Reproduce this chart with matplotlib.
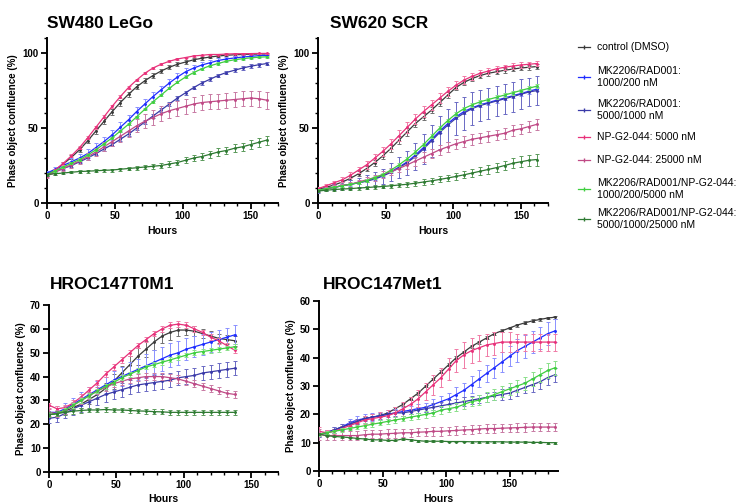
import matplotlib.pyplot as plt
from matplotlib.lines import Line2D
from matplotlib.ticker import MultipleLocator

plt.rcParams['font.family'] = ['Liberation Sans', 'DejaVu Sans']

labels = ['control (DMSO)', 'MK2206/RAD001:\n1000/200 nM', 'MK2206/RAD001:\n5000/1000 nM',
          'NP-G2-044: 5000 nM', 'NP-G2-044: 25000 nM',
          'MK2206/RAD001/NP-G2-044:\n1000/200/5000 nM', 'MK2206/RAD001/NP-G2-044:\n5000/1000/25000 nM']
colors = ['#3a3a3a', '#1f2dff', '#3a3aa8', '#e8317a', '#c04a86', '#3fcf3f', '#2e7a32']
err_colors = ['#707070', '#8a90ff', '#6a6ac4', '#f07aa6', '#c87aa4', '#8ae08a', '#5a9a5a']

# ---- SW480 LeGo ----
t_sw480 = list(range(0, 163, 6))
sw480 = [
    [19, 22, 26, 30.5, 35.5, 41.5, 48, 54.5, 61, 67, 72.5, 77.5, 81.5, 85, 88, 90.5, 92.5, 94, 95.5, 96.5, 97.3, 98, 98.5, 98.8, 99, 99.2, 99.3, 99.4],
    [20, 22.5, 25, 27.5, 30, 33, 37, 41, 45.5, 50.5, 55.5, 61, 66, 71, 75.5, 80, 84, 87.5, 90, 92, 93.5, 95, 96, 96.7, 97.3, 97.8, 98.2, 98.5],
    [19, 21, 23, 25, 27.5, 30, 33, 36, 39, 42.5, 46, 50, 54, 58, 62, 66, 70, 73.5, 77, 80, 82.5, 85, 87, 88.5, 90, 91.2, 92.2, 93],
    [18, 22, 26.5, 31.5, 37, 43.5, 50.5, 57.5, 64.5, 71, 77, 82, 86.5, 90, 92.5, 94.5, 96, 97, 98, 98.5, 99, 99, 99.3, 99.5, 99.5, 99.6, 99.7, 99.7],
    [18, 20.5, 23, 25.5, 28, 31, 34, 37.5, 41, 44.5, 48, 51.5, 54.5, 57, 59.5, 61.5, 63, 64.5, 66, 67, 67.5, 68, 68.5, 69, 69.5, 70, 69.5, 68.5],
    [19, 21.5, 24, 26.5, 29, 32, 35.5, 39.5, 43.5, 48, 52.5, 57.5, 62.5, 67.5, 72, 76.5, 80.5, 84, 87, 89.5, 91.5, 93, 94.5, 95.5, 96.2, 96.8, 97.2, 97.5],
    [19, 19.5, 20, 20.5, 21, 21.2, 21.5, 21.8, 22, 22.5, 23, 23.5, 24, 24.5, 25, 26, 27, 28.5, 30, 31, 32.5, 34, 35, 36.5, 37.5, 39, 40.5, 42],
]
sw480_err = [
    [0.8, 1, 1.2, 1.4, 1.6, 1.8, 2, 2, 2, 2, 1.8, 1.8, 1.6, 1.5, 1.4, 1.3, 1.2, 1.1, 1, 0.9, 0.8, 0.7, 0.7, 0.6, 0.6, 0.6, 0.5, 0.5],
    [1.5, 1.8, 2, 2.3, 2.5, 2.8, 3, 3.2, 3.3, 3.4, 3.4, 3.3, 3.2, 3, 2.8, 2.6, 2.4, 2.2, 2, 1.8, 1.6, 1.5, 1.4, 1.3, 1.2, 1.2, 1.1, 1.1],
    [1, 1, 1, 1.1, 1.1, 1.2, 1.2, 1.2, 1.3, 1.3, 1.3, 1.3, 1.3, 1.3, 1.3, 1.3, 1.3, 1.3, 1.3, 1.3, 1.3, 1.3, 1.3, 1.3, 1.3, 1.3, 1.3, 1.3],
    [0.8, 0.8, 0.9, 1, 1, 1, 1.1, 1.1, 1.1, 1, 1, 0.9, 0.8, 0.8, 0.7, 0.6, 0.6, 0.5, 0.5, 0.5, 0.4, 0.4, 0.4, 0.4, 0.4, 0.4, 0.4, 0.4],
    [1.5, 1.6, 1.8, 2, 2.2, 2.5, 2.8, 3, 3.3, 3.6, 4, 4.3, 4.6, 4.8, 5, 5, 5, 5, 5, 5, 5, 5, 5, 5, 5, 5, 5.2, 5.5],
    [0.6, 0.6, 0.7, 0.7, 0.8, 0.8, 0.8, 0.8, 0.8, 0.8, 0.8, 0.8, 0.8, 0.8, 0.8, 0.8, 0.8, 0.8, 0.8, 0.8, 0.7, 0.7, 0.7, 0.7, 0.6, 0.6, 0.6, 0.6],
    [0.8, 0.8, 0.8, 0.8, 0.9, 0.9, 1, 1, 1, 1.1, 1.2, 1.3, 1.4, 1.5, 1.6, 1.7, 1.8, 2, 2.1, 2.2, 2.3, 2.4, 2.5, 2.6, 2.7, 2.8, 2.9, 3],
]

# ---- SW620 SCR ----
t_sw620 = list(range(0, 163, 6))
sw620 = [
    [9, 10.5, 12, 14, 16.5, 19.5, 23, 27, 31.5, 36.5, 42, 47.5, 53, 57.5, 62, 67, 72, 77, 80.5, 83, 85, 86.5, 87.5, 88.5, 89.3, 90, 90.5, 91],
    [8.5, 9.5, 10.5, 11.5, 12.5, 13.5, 15, 16.5, 18.5, 21, 24, 27.5, 32, 37, 42.5, 48, 53, 57.5, 61, 63.5, 65.5, 67, 68.5, 70, 71.5, 73, 74.5, 76],
    [8, 9.5, 10.5, 11.5, 12.5, 13.5, 14.5, 16, 18, 20.5, 23.5, 27, 31, 36, 41.5, 47, 52, 56.5, 60, 63, 65, 66.5, 68, 69.5, 71, 72.5, 74, 75],
    [9.5, 11.5, 13.5, 15.5, 18.5, 22, 25.5, 30, 34.5, 39.5, 45, 50.5, 56, 61, 65.5, 70, 74.5, 78.5, 82, 84.5, 86.5, 88, 89.5, 90.5, 91.3, 92, 92.5, 93],
    [8.5, 9.5, 10.5, 11.5, 12.5, 14, 15.5, 17, 19, 21, 23, 25.5, 28, 30.5, 33, 35.5, 37.5, 39.5, 41, 42.5, 43.5, 44.5, 45.5, 46.5, 48.5, 49.5, 51, 52.5],
    [8.5, 9.5, 10.5, 11.5, 12.5, 13.5, 15, 17, 19, 22, 25.5, 29.5, 34, 39, 44.5, 50, 55, 59.5, 63, 65.5, 67.5, 69, 70.5, 72, 73.5, 75, 76.5, 78],
    [8, 8.5, 9, 9.3, 9.6, 10, 10.3, 10.7, 11, 11.5, 12, 12.5, 13.2, 14, 14.8, 15.7, 16.7, 17.7, 18.8, 20, 21.2, 22.4, 23.6, 25, 26.5, 27.5, 28.5, 29],
]
sw620_err = [
    [0.8, 0.9, 1, 1.2, 1.4, 1.6, 1.8, 2, 2.2, 2.4, 2.5, 2.5, 2.5, 2.4, 2.3, 2.2, 2, 1.9, 1.8, 1.7, 1.6, 1.5, 1.5, 1.5, 1.5, 1.5, 1.5, 1.5],
    [0.8, 0.8, 0.9, 0.9, 1, 1, 1, 1.1, 1.1, 1.2, 1.2, 1.3, 1.3, 1.4, 1.4, 1.5, 1.5, 1.5, 1.5, 1.5, 1.5, 1.5, 1.5, 1.5, 1.5, 1.5, 1.5, 1.5],
    [1, 1.5, 2, 2.5, 3, 3.5, 4, 4.5, 5, 6, 7, 8, 9, 10, 10.5, 11, 11, 11, 11, 11, 10.5, 10.5, 10, 10, 10, 10, 9.5, 9.5],
    [1, 1.2, 1.5, 1.8, 2, 2.3, 2.6, 2.9, 3.1, 3.3, 3.5, 3.5, 3.5, 3.4, 3.3, 3.1, 2.9, 2.7, 2.5, 2.3, 2.1, 2, 1.9, 1.8, 1.8, 1.8, 1.8, 1.8],
    [1, 1, 1.2, 1.3, 1.5, 1.6, 1.8, 2, 2.2, 2.4, 2.6, 2.8, 3, 3.2, 3.3, 3.5, 3.5, 3.5, 3.5, 3.5, 3.5, 3.5, 3.5, 3.5, 3.5, 3.5, 3.5, 3.5],
    [0.6, 0.6, 0.7, 0.7, 0.8, 0.8, 0.9, 0.9, 1, 1, 1.1, 1.1, 1.2, 1.2, 1.3, 1.3, 1.3, 1.3, 1.3, 1.3, 1.3, 1.3, 1.3, 1.3, 1.3, 1.3, 1.3, 1.3],
    [0.5, 0.6, 0.7, 0.8, 0.9, 1, 1.1, 1.2, 1.3, 1.4, 1.5, 1.6, 1.7, 1.8, 1.9, 2, 2.1, 2.2, 2.3, 2.4, 2.6, 2.8, 3, 3.2, 3.4, 3.6, 3.8, 4],
]

# ---- HROC147T0M1 ----
t_t0m1 = list(range(0, 139, 6))
t0m1 = [
    [24, 24.5, 25.5, 27, 28.5, 30.5, 32.5, 35, 38, 41.5, 45, 48.5, 51.5, 54.5, 57, 58.5, 59.5, 59.5, 59, 58, 57, 56, 55.5, 55],
    [25, 25, 26.5, 28.5, 30.5, 32.5, 34.5, 36.5, 38.5, 40, 41.5, 43, 44.5, 46, 47.5, 49, 50, 51.5, 52.5, 53.5, 54.5, 55.5, 56.5, 57.5],
    [22.5, 23, 24.5, 26.5, 28, 29.5, 31, 32.5, 33.5, 34.5, 35.5, 36.5, 37, 37.5, 38, 38.5, 39.5, 40, 40.5, 41.5, 42, 42.5, 43, 43.5],
    [28, 26.5, 27, 29, 31.5, 34.5, 37.5, 41, 44, 47, 50, 53, 55.5, 58, 60, 61.5, 62, 61.5, 60, 58.5, 56.5, 55, 53, 51],
    [25, 24.5, 26, 28, 30, 32, 34, 35.5, 37, 38, 39, 39.5, 40, 40, 40, 39.5, 39, 38, 37, 36, 35, 34, 33, 32.5],
    [24, 24.5, 26, 28, 30, 32, 34, 36, 37.5, 39.5, 41, 42.5, 44, 45, 46, 47, 48, 49, 50, 50.5, 51, 51.5, 52, 52.5],
    [24, 24.5, 25, 25.5, 25.8, 26, 26, 26.2, 26, 26, 25.8, 25.6, 25.5, 25.3, 25.2, 25, 25, 25, 25, 25, 25, 25, 25, 25],
]
t0m1_err = [
    [1, 1, 1, 1.2, 1.5, 1.8, 2, 2.5, 3, 3, 3.5, 3.5, 3.5, 3.5, 3, 3, 2.5, 2, 2, 2, 2, 2, 2, 2],
    [2.5, 2.5, 2.5, 2.5, 3, 3, 3.5, 3.5, 4, 4, 4.5, 4.5, 5, 5, 5, 5, 5, 4.5, 4.5, 4.5, 4, 4, 4, 4],
    [2, 2, 2, 2.5, 3, 3, 3, 3, 3, 3, 3, 3, 3, 3, 3, 3, 3, 3, 3, 3, 3, 3, 3, 3],
    [1, 1, 1, 1, 1, 1, 1, 1.2, 1.2, 1.2, 1.2, 1.2, 1.2, 1.2, 1.2, 1.2, 1.2, 1.2, 1.2, 1.2, 1.2, 1.2, 1.2, 1.2],
    [1.5, 1.5, 1.5, 1.5, 1.5, 1.5, 1.5, 1.5, 1.5, 1.5, 1.5, 1.5, 1.5, 1.5, 1.5, 1.5, 1.5, 1.5, 1.5, 1.5, 1.5, 1.5, 1.5, 1.5],
    [1, 1, 1, 1, 1, 1, 1, 1, 1, 1, 1, 1, 1, 1, 1, 1, 1, 1, 1, 1, 1, 1, 1, 1],
    [1, 1, 1, 1, 1, 1, 1, 1, 1, 1, 1, 1, 1, 1, 1, 1, 1, 1, 1, 1, 1, 1, 1, 1],
]

# ---- HROC147Met1 ----
t_met1 = list(range(0, 187, 6))
met1 = [
    [13, 13.5, 14.5, 15.5, 16.5, 17.5, 18.5, 19, 19.5, 20.5, 22, 23.5, 25.5, 27.5, 30, 32.5, 35, 37.5, 40, 42, 44, 45.5, 47, 48.5, 49.5, 50.5, 51.5, 52.3, 53, 53.5, 54, 54.3],
    [13, 13.5, 14.5, 15.5, 17, 18, 18.5, 19, 19.5, 20, 20.5, 21, 21.5, 22, 22.5, 23.5, 24.5, 25.5, 27, 28.5, 30.5, 32.5, 34.5, 36.5, 38.5, 40.5, 42.5, 44, 45.5, 47, 48.5, 49.5],
    [13, 13.5, 14.5, 15.5, 16.5, 17.5, 18.5, 19, 19.5, 20, 20.5, 20.5, 21, 21.5, 22, 22.5, 23, 23.5, 24, 24.5, 25, 25.5, 26, 26.5, 27, 27.5, 28.5, 29.5, 30.5, 31.5, 33, 34],
    [14, 13.5, 14, 15, 16, 17, 18, 18.5, 19, 19.5, 20.5, 22, 23.5, 25.5, 28, 30.5, 33, 36, 39, 41, 42.5, 43.5, 44.5, 45, 45.5, 45.5, 45.5, 45.5, 45.5, 45.5, 45.5, 45.5],
    [13, 12.5, 12.5, 12.5, 12.5, 12.5, 12.8, 13, 13, 13.2, 13.3, 13.5, 13.5, 13.7, 13.8, 14, 14, 14.2, 14.3, 14.5, 14.6, 14.8, 15, 15, 15.1, 15.2, 15.3, 15.4, 15.5, 15.5, 15.5, 15.5],
    [13, 13.5, 14, 14.5, 15, 15.5, 16, 16.5, 17, 17.5, 18, 18.5, 19, 19.5, 20, 20.5, 21.5, 22, 22.5, 23.5, 24.5, 25, 26, 27, 28, 29, 30, 31, 32.5, 34, 35.5, 36.5],
    [13, 12.5, 12.2, 12, 11.8, 11.5, 11.3, 11, 11, 10.8, 10.8, 11.3, 11, 10.7, 10.5, 10.5, 10.5, 10.4, 10.4, 10.4, 10.3, 10.3, 10.3, 10.3, 10.3, 10.2, 10.2, 10.2, 10.1, 10.1, 10, 10],
]
met1_err = [
    [0.5, 0.5, 0.5, 0.5, 0.5, 0.5, 0.5, 0.5, 0.5, 0.5, 0.5, 0.5, 0.5, 0.5, 0.5, 0.5, 0.5, 0.5, 0.5, 0.5, 0.5, 0.5, 0.5, 0.5, 0.5, 0.5, 0.5, 0.5, 0.5, 0.5, 0.5, 0.5],
    [1, 1, 1, 1.2, 1.3, 1.5, 1.5, 1.5, 1.5, 1.5, 1.5, 1.5, 1.5, 1.5, 1.5, 2, 2, 2, 2.5, 2.5, 3, 3, 3, 3.5, 3.5, 3.5, 4, 4, 4, 4, 4, 4],
    [1, 1, 1, 1, 1, 1, 1, 1, 1, 1, 1, 1, 1, 1, 1, 1.5, 1.5, 1.5, 1.5, 1.5, 1.5, 1.5, 1.5, 1.5, 2, 2, 2, 2, 2.5, 2.5, 2.5, 2.5],
    [1.5, 1, 1, 1, 1, 1, 1.5, 1.5, 2, 2, 2, 2.5, 2.5, 3, 3, 3.5, 3.5, 4, 4, 4.5, 4.5, 4.5, 4, 4, 3.5, 3.5, 3, 3, 3, 3, 3, 3],
    [2, 1.5, 1.5, 1.5, 1.5, 1.5, 1.5, 1.5, 1.5, 1.5, 1.5, 1.5, 1.5, 1.5, 1.5, 1.5, 1.5, 1.5, 1.5, 1.5, 1.5, 1.5, 1.5, 1.5, 1.5, 1.5, 1.5, 1.5, 1.5, 1.5, 1.5, 1.5],
    [0.5, 0.5, 0.6, 0.6, 0.7, 0.7, 0.8, 0.8, 0.9, 0.9, 1, 1, 1.1, 1.1, 1.2, 1.2, 1.3, 1.3, 1.4, 1.5, 1.6, 1.7, 1.8, 1.9, 2, 2.1, 2.2, 2.3, 2.4, 2.5, 2.5, 2.5],
    [0.3, 0.3, 0.3, 0.3, 0.3, 0.3, 0.3, 0.3, 0.3, 0.3, 0.3, 0.3, 0.3, 0.3, 0.3, 0.3, 0.3, 0.3, 0.3, 0.3, 0.3, 0.3, 0.3, 0.3, 0.3, 0.3, 0.3, 0.3, 0.3, 0.3, 0.3, 0.3],
]

W, H = 741, 504
fig = plt.figure(figsize=(W / 100, H / 100), dpi=100)


def px_axes(left, top, right, bottom):
    return fig.add_axes([left / W, 1 - bottom / H, (right - left) / W, (bottom - top) / H])


# title, axes, times, means, errors, ymax, xmax, y major step, y minor step, title x, title baseline
panels = [
    ('SW480 LeGo', px_axes(47, 38, 278, 203), t_sw480, sw480, sw480_err, 110, 170, 50, 10, 47, 28),
    ('SW620 SCR', px_axes(318, 38, 548, 203), t_sw620, sw620, sw620_err, 110, 170, 50, 10, 330, 28),
    ('HROC147T0M1', px_axes(49, 305, 278, 472), t_t0m1, t0m1, t0m1_err, 70, 170, 10, None, 50, 289),
    ('HROC147Met1', px_axes(319, 301, 558, 471), t_met1, met1, met1_err, 60, 188, 10, None, 323, 289),
]

for title, ax, t, series, errs, ymax, xmax, ymaj, ymin, tx, ty in panels:
    for i in range(len(series)):
        ax.errorbar(t, series[i], yerr=errs[i], color=colors[i], ecolor=err_colors[i],
                    lw=0.9, marker='.', ms=2.2, elinewidth=0.7, capsize=1.6, capthick=0.7,
                    zorder=3 + i * 0.1)
    ax.set_xlim(0, xmax)
    ax.xaxis.set_major_locator(MultipleLocator(50))
    ax.xaxis.set_minor_locator(MultipleLocator(10))
    if ymax == 110:
        ax.set_yticks([0, 50, 100])
    else:
        ax.yaxis.set_major_locator(MultipleLocator(ymaj))
    if ymin:
        ax.yaxis.set_minor_locator(MultipleLocator(ymin))
    ax.set_ylim(0, ymax)
    for s in ['top', 'right']:
        ax.spines[s].set_visible(False)
    for s in ['left', 'bottom']:
        ax.spines[s].set_linewidth(1.4)
    ax.tick_params(which='major', length=4, width=1.3, labelsize=7, pad=2)
    ax.tick_params(which='minor', length=2.5, width=1.0)
    for lab in ax.get_xticklabels() + ax.get_yticklabels():
        lab.set_fontweight('bold')
    ax.set_xlabel('Hours', fontsize=7.5, fontweight='bold', labelpad=3)
    ax.set_ylabel('Phase object confluence (%)', fontsize=7, fontweight='bold', labelpad=3)
    fig.text(tx / W, 1 - ty / H, title, fontsize=12.5, fontweight='bold',
             ha='left', va='baseline')

# legend, drawn by hand in pixel positions
leg_y = [47, 77, 110, 137, 160, 189, 219]
for i, lab in enumerate(labels):
    y = 1 - leg_y[i] / H
    fig.add_artist(Line2D([578 / W, 590 / W], [y, y], color=colors[i], lw=0.9,
                          transform=fig.transFigure))
    fig.add_artist(Line2D([584 / W], [y], color=colors[i], marker='|', ms=3,
                          transform=fig.transFigure))
    fig.text(597 / W, y, lab, fontsize=7.5, ha='left', va='center', linespacing=1.35)

fig.savefig('out.png', dpi=100)
